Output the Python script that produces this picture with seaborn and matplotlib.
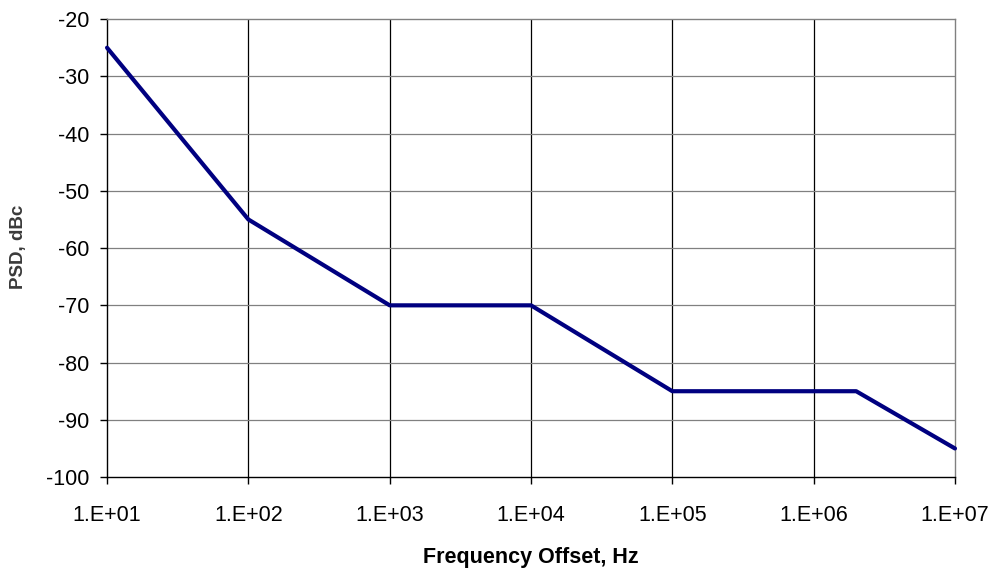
import matplotlib
matplotlib.use("Agg")
import matplotlib.pyplot as plt
import seaborn as sns
import pandas as pd
from matplotlib.ticker import FixedLocator, FixedFormatter, NullLocator

# Phase-noise mask: offset frequency (Hz) vs PSD (dBc)
freq_hz = [1e1, 1e2, 1e3, 1e4, 1e5, 2e6, 1e7]
psd_dbc = [-25, -55, -70, -70, -85, -85, -95]

x_ticks = [1e1, 1e2, 1e3, 1e4, 1e5, 1e6, 1e7]
x_tick_labels = ["1.E+01", "1.E+02", "1.E+03", "1.E+04", "1.E+05", "1.E+06", "1.E+07"]
y_ticks = [-100, -90, -80, -70, -60, -50, -40, -30, -20]

df = pd.DataFrame({"freq": freq_hz, "psd": psd_dbc})

sns.set_theme(style="white")
plt.rcParams["font.family"] = ["Liberation Sans", "DejaVu Sans"]

fig = plt.figure(figsize=(9.93, 5.70), dpi=100)
ax = fig.add_axes([0.1078, 0.163, 0.8539, 0.8035])

sns.lineplot(data=df, x="freq", y="psd", ax=ax, color="#000080",
             linewidth=3.0, zorder=5, clip_on=False)

ax.set_xscale("log")
ax.set_xlim(1e1, 1e7)
ax.set_ylim(-100, -20)

ax.xaxis.set_major_locator(FixedLocator(x_ticks))
ax.xaxis.set_major_formatter(FixedFormatter(x_tick_labels))
ax.xaxis.set_minor_locator(NullLocator())
ax.yaxis.set_major_locator(FixedLocator(y_ticks))
ax.set_yticklabels([str(v) for v in y_ticks])

# Gridlines: dark vertical, grey horizontal
ax.grid(False)
for xv in x_ticks[1:-1]:
    ax.axvline(xv, color="#000000", linewidth=0.9, zorder=1)
for yv in y_ticks[1:-1]:
    ax.axhline(yv, color="#808080", linewidth=0.9, zorder=1)

for side in ["left", "bottom"]:
    ax.spines[side].set_color("#000000")
    ax.spines[side].set_linewidth(1.0)
for side in ["top", "right"]:
    ax.spines[side].set_visible(True)
    ax.spines[side].set_color("#808080")
    ax.spines[side].set_linewidth(1.0)

ax.tick_params(axis="both", which="major", direction="out", length=5,
               width=1.0, color="#000000", labelsize=15.5, labelcolor="#000000",
               left=True, bottom=True)
ax.tick_params(axis="y", pad=8)
ax.tick_params(axis="x", pad=15)

ax.set_xlabel("")
ax.set_ylabel("")
fig.text(531 / 993, 1 - 563 / 570, "Frequency Offset, Hz", ha="center",
         va="baseline", fontsize=15.5, fontweight="bold", color="#000000",
         family=["Liberation Sans", "DejaVu Sans"])
fig.text(18 / 993, 1 - 247 / 570, "PSD, dBc", ha="center", va="center",
         rotation=90, fontsize=13.5, fontweight="bold", color="#3a3a3a",
         family=["Liberation Sans", "DejaVu Sans"])

fig.savefig("out.png", dpi=100, facecolor="white")
